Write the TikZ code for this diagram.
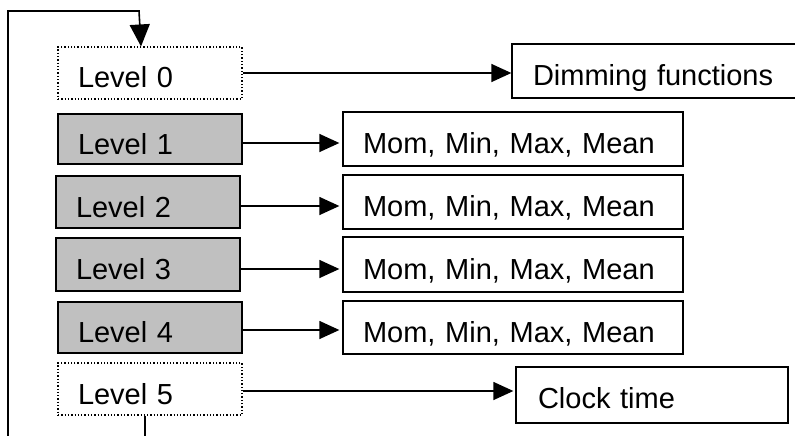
\documentclass[tikz,border=0pt]{standalone}
\usepackage{fontspec}
\setmainfont{Liberation Sans}
\usetikzlibrary{arrows.meta}
\definecolor{boxgray}{RGB}{192,192,192}
\begin{document}
\begin{tikzpicture}[x=1pt,y=-1pt,
  box/.style={draw, rectangle, inner ysep=0pt, align=left, text height=30pt, text depth=0pt,
    font=\fontsize{29}{34}\selectfont, line width=1.3pt},
  lvl/.style={box, inner xsep=20pt, text width=144pt},
  dotbox/.style={lvl, dotted, line width=1.1pt},
  graybox/.style={lvl, fill=boxgray},
  res/.style={box, inner xsep=20pt, text width=300pt, text height=29pt},
  arr/.style={line width=1.4pt, -{Triangle[length=20pt,width=18pt]}},
  looparr/.style={line width=1.6pt, -{Triangle[length=22pt,width=20pt]}}]
\useasboundingbox[fill=white] (0,0) rectangle (795,436);

% level boxes
\node[dotbox, minimum height=52pt]  (L0) at (150,73) {Level 0};
\node[graybox, minimum height=50pt] (L1) at (150,139) {Level 1};
\node[graybox, minimum height=52pt] (L2) at (148,202) {Level 2};
\node[graybox, minimum height=53pt] (L3) at (148,264.5) {Level 3};
\node[graybox, minimum height=51pt] (L4) at (150,327.5) {Level 4};
\node[dotbox, minimum height=52pt]  (L5) at (150,389) {Level 5};

% result boxes
\node[box, inner xsep=21pt, text width=242pt, text height=28pt, minimum height=54pt] (D) at (654,71) {Dimming functions};
\node[res, minimum height=54pt] (M1) at (513,139) {Mom, Min, Max, Mean};
\node[res, minimum height=54pt] (M2) at (513,202) {Mom, Min, Max, Mean};
\node[res, minimum height=55pt] (M3) at (513,264.5) {Mom, Min, Max, Mean};
\node[res, minimum height=53pt] (M4) at (513,327.5) {Mom, Min, Max, Mean};
\node[box, inner xsep=22pt, text width=228pt, text height=26pt, minimum height=56pt] (C) at (652,395) {Clock time};

% connectors
\coordinate (a0) at (L0.east);
\coordinate (a1) at ([yshift=-4pt]L1.east);
\coordinate (a2) at ([yshift=-4pt]L2.east);
\coordinate (a3) at ([yshift=-4.5pt]L3.east);
\coordinate (a4) at ([yshift=-2.5pt]L4.east);
\coordinate (a5) at ([yshift=-2pt]L5.east);
\draw[arr] (a0) -- (a0 -| D.west);
\draw[arr, shorten >=3pt] (a1) -- (a1 -| M1.west);
\draw[arr, shorten >=3pt] (a2) -- (a2 -| M2.west);
\draw[arr, shorten >=3pt] (a3) -- (a3 -| M3.west);
\draw[arr, shorten >=3pt] (a4) -- (a4 -| M4.west);
\draw[arr, shorten >=2pt] (a5) -- (a5 -| C.west);

% feedback loop
\coordinate (lb) at (8,436);
\coordinate (lt) at (139,11);
\draw[looparr] (lb) |- (lt) -- ([xshift=-9pt]L0.north);
\coordinate (bt) at (145,436);
\draw[line width=1.4pt] ([xshift=-5pt]L5.south) -- ([xshift=-5pt]L5.south |- bt);
\end{tikzpicture}
\end{document}
